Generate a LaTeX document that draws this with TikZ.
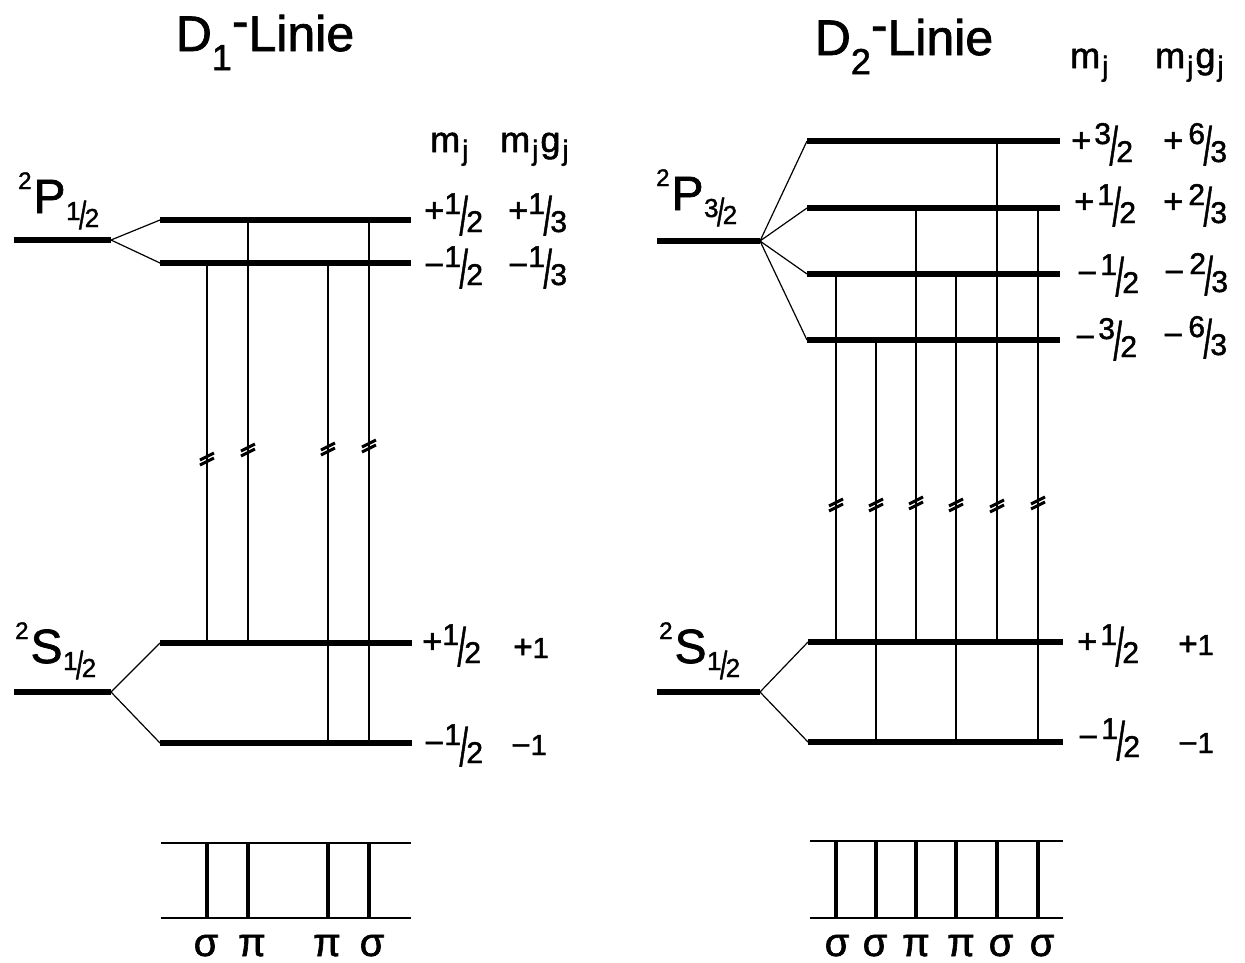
\documentclass[tikz,border=0pt]{standalone}
\usepackage{fontspec}
\setmainfont{Liberation Sans}[FakeBold=1.5]
\usetikzlibrary{calc}
% signs and fraction like +1/2 : numerator raised, denominator lowered, tall slash
\newcommand\pl{\scalebox{1.15}{+}}
\newcommand\mi{\scalebox{1.15}[1]{−}}
\newcommand\fr[2]{\raisebox{8pt}{#1}\kern-1.5pt\raisebox{-13pt}{\scalebox{1}[1.8]{/}}\kern-1.5pt\raisebox{-10pt}{#2}}
% term symbol like 2P_{1/2}
\newcommand\term[3]{{\fontsize{24}{24}\selectfont\raisebox{24pt}{2}}\kern2pt{\fontsize{48}{48}\selectfont #1}\kern0.5pt{\fontsize{26}{26}\selectfont\raisebox{-7pt}{#2}\kern-1.5pt\raisebox{-16pt}{\scalebox{1}[1.5]{/}}\kern-1.5pt\raisebox{-14pt}{#3}}}
% header m_j and m_j g_j
\newcommand\jsub{\raisebox{-8pt}{\fontsize{28}{28}\selectfont j}}
\newcommand\mj{m\kern2pt\jsub}
\newcommand\mjgj{m\kern2pt\jsub\kern2pt g\kern2pt\jsub}
\tikzset{
  level/.style={line width=5.5pt},
  fan/.style={line width=1.2pt},
  trans/.style={line width=1.4pt},
  frameline/.style={line width=1.3pt},
  specline/.style={line width=3.4pt},
  brkline/.style={line width=3pt},
  lab/.style={anchor=base west, inner sep=0pt, font=\fontsize{30}{30}\selectfont},
  small/.style={anchor=base west, inner sep=0pt, font=\fontsize{29}{29}\selectfont},
  hdr/.style={anchor=base west, inner sep=0pt, font=\fontsize{36}{36}\selectfont},
  ttl/.style={anchor=base, inner sep=0pt, text height=37pt, font=\fontsize{50}{50}\selectfont},
  trm/.style={anchor=base west, inner sep=0pt},
  greek/.style={anchor=base, inner sep=0pt, text height=22pt, text depth=0pt, font=\fontsize{40}{40}\selectfont},
  pics/brk/.style={code={
    \draw[brkline] (-7pt,-6pt) -- (7pt,1pt);
    \draw[brkline] (-7pt,-1pt) -- (7pt,6pt);
  }}
}
\begin{document}
\begin{tikzpicture}[x=1pt,y=-1pt]
\useasboundingbox (0,0) rectangle (1245,962);

% ================= D1 =================
\node[ttl] (t1) at (265,51) {D\raisebox{-19pt}{\fontsize{36}{36}\selectfont 1}\raisebox{13pt}{-}Linie};
\node[hdr] (h1a) at (430,152) {\mj};
\node[hdr] (h1b) at (500,152) {\mjgj};

\node[trm] (tP1) at (18,213) {\term{P}{1}{2}};
\node[trm] (tS1) at (15,663) {\term{S}{1}{2}};

\coordinate (P1l) at (14,240);  \coordinate (P1) at (111,240);
\coordinate (P1u-w) at (160,220); \coordinate (P1u-e) at (411,220);
\coordinate (P1d-w) at (160,263); \coordinate (P1d-e) at (411,263);
\coordinate (S1l) at (14,692);  \coordinate (S1) at (111,692);
\coordinate (S1u-w) at (160,643); \coordinate (S1u-e) at (412,643);
\coordinate (S1d-w) at (160,743); \coordinate (S1d-e) at (412,743);

\draw[level] (P1l) -- (P1);
\draw[fan] (P1) -- (P1u-w) (P1) -- (P1d-w);
\draw[level] (P1u-w) -- (P1u-e);
\draw[level] (P1d-w) -- (P1d-e);
\draw[level] (S1l) -- (S1);
\draw[fan] (S1) -- (S1u-w) (S1) -- (S1d-w);
\draw[level] (S1u-w) -- (S1u-e);
\draw[level] (S1d-w) -- (S1d-e);

\node[lab] (l1a) at (424,222) {\pl\fr{1}{2}};
\node[lab] (l1b) at (508,222) {\pl\fr{1}{3}};
\node[lab] (l1c) at (424,275) {\mi\fr{1}{2}};
\node[lab] (l1d) at (508,275) {\mi\fr{1}{3}};
\node[lab] (l1e) at (422,653) {\pl\fr{1}{2}};
\node[small] (l1f) at (513,658) {\pl 1};
\node[lab] (l1g) at (424,753) {\mi\fr{1}{2}};
\node[small] (l1h) at (511,755) {\mi 1};

\coordinate (a1) at (207,0); \coordinate (a2) at (248,0);
\coordinate (a3) at (328,0); \coordinate (a4) at (369,0);
\draw[trans] (a1 |- P1d-w) -- (a1 |- S1u-w);
\draw[trans] (a2 |- P1u-w) -- (a2 |- S1u-w);
\draw[trans] (a3 |- P1d-w) -- (a3 |- S1d-w);
\draw[trans] (a4 |- P1u-w) -- (a4 |- S1d-w);
\pic at (207,459) {brk};
\pic at (248,450) {brk};
\pic at (328,449) {brk};
\pic at (369,446) {brk};

\coordinate (F1tl) at (161,843); \coordinate (F1tr) at (411,843);
\coordinate (F1bl) at (161,918); \coordinate (F1br) at (411,918);
\draw[frameline] (F1tl) -- (F1tr);
\draw[frameline] (F1bl) -- (F1br);
\foreach \c in {a1,a2,a3,a4} \draw[specline] (\c |- F1tl) -- (\c |- F1bl);
\node[greek] (g1a) at (206,956) {σ};
\node[greek] (g1b) at (252,956) {π};
\node[greek] (g1c) at (327,956) {π};
\node[greek] (g1d) at (372,956) {σ};

% ================= D2 =================
\node[ttl] (t2) at (904,55) {D\raisebox{-19pt}{\fontsize{36}{36}\selectfont 2}\raisebox{13pt}{-}Linie};
\node[hdr] (h2a) at (1070,68) {\mj};
\node[hdr] (h2b) at (1155,68) {\mjgj};

\node[trm] (tP2) at (656,210) {\term{P}{3}{2}};
\node[trm] (tS2) at (659,663) {\term{S}{1}{2}};

\coordinate (P2l) at (657,241); \coordinate (P2) at (760,241);
\coordinate (P2a-w) at (807,141); \coordinate (P2a-e) at (1060,141);
\coordinate (P2b-w) at (807,208); \coordinate (P2b-e) at (1060,208);
\coordinate (P2c-w) at (807,274); \coordinate (P2c-e) at (1060,274);
\coordinate (P2d-w) at (807,340); \coordinate (P2d-e) at (1060,340);
\coordinate (S2l) at (657,692); \coordinate (S2) at (760,692);
\coordinate (S2u-w) at (808,642); \coordinate (S2u-e) at (1063,642);
\coordinate (S2d-w) at (808,742); \coordinate (S2d-e) at (1063,742);

\draw[level] (P2l) -- (P2);
\draw[fan] (P2) -- (P2a-w) (P2) -- (P2b-w) (P2) -- (P2c-w) (P2) -- (P2d-w);
\draw[level] (P2a-w) -- (P2a-e);
\draw[level] (P2b-w) -- (P2b-e);
\draw[level] (P2c-w) -- (P2c-e);
\draw[level] (P2d-w) -- (P2d-e);
\draw[level] (S2l) -- (S2);
\draw[fan] (S2) -- (S2u-w) (S2) -- (S2d-w);
\draw[level] (S2u-w) -- (S2u-e);
\draw[level] (S2d-w) -- (S2d-e);

\node[lab] (l2a) at (1071,152) {\pl\kern3pt\fr{3}{2}};
\node[lab] (l2b) at (1163,152) {\pl\kern5pt\fr{6}{3}};
\node[lab] (l2c) at (1074,213) {\pl\kern3pt\fr{1}{2}};
\node[lab] (l2d) at (1163,213) {\pl\kern5pt\fr{2}{3}};
\node[lab] (l2e) at (1077,283) {\mi\kern3pt\fr{1}{2}};
\node[lab] (l2f) at (1164,282) {\mi\kern5pt\fr{2}{3}};
\node[lab] (l2g) at (1075,347) {\mi\kern3pt\fr{3}{2}};
\node[lab] (l2h) at (1163,345) {\mi\kern5pt\fr{6}{3}};
\node[lab] (l2i) at (1077,653) {\pl\kern3pt\fr{1}{2}};
\node[small] (l2j) at (1178,655) {\pl 1};
\node[lab] (l2k) at (1078,747) {\mi\kern3pt\fr{1}{2}};
\node[small] (l2l) at (1178,753) {\mi 1};

\coordinate (b1) at (836,0); \coordinate (b2) at (876,0);
\coordinate (b3) at (916,0); \coordinate (b4) at (956,0);
\coordinate (b5) at (997,0); \coordinate (b6) at (1038,0);
\draw[trans] (b1 |- P2c-w) -- (b1 |- S2u-w);
\draw[trans] (b2 |- P2d-w) -- (b2 |- S2d-w);
\draw[trans] (b3 |- P2b-w) -- (b3 |- S2u-w);
\draw[trans] (b4 |- P2c-w) -- (b4 |- S2d-w);
\draw[trans] (b5 |- P2a-w) -- (b5 |- S2u-w);
\draw[trans] (b6 |- P2b-w) -- (b6 |- S2d-w);
\pic at (836,505) {brk};
\pic at (876,505) {brk};
\pic at (916,503) {brk};
\pic at (956,505) {brk};
\pic at (997,506) {brk};
\pic at (1038,503) {brk};

\coordinate (F2tl) at (810,841); \coordinate (F2tr) at (1063,841);
\coordinate (F2bl) at (810,918); \coordinate (F2br) at (1063,918);
\draw[frameline] (F2tl) -- (F2tr);
\draw[frameline] (F2bl) -- (F2br);
\foreach \c in {b1,b2,b3,b4,b5,b6} \draw[specline] (\c |- F2tl) -- (\c |- F2bl);
\node[greek] (g2a) at (837,956) {σ};
\node[greek] (g2b) at (875,956) {σ};
\node[greek] (g2c) at (916,956) {π};
\node[greek] (g2d) at (961,956) {π};
\node[greek] (g2e) at (1001,956) {σ};
\node[greek] (g2f) at (1042,956) {σ};
\end{tikzpicture}
\end{document}
